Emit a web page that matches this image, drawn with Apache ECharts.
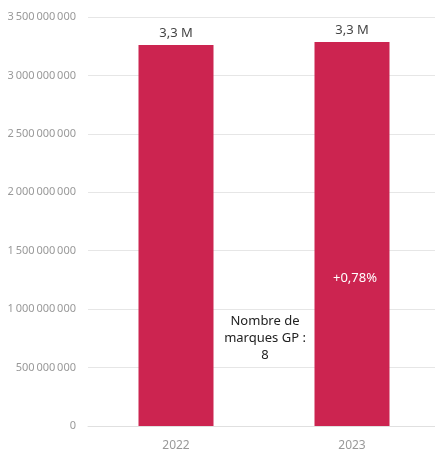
<!DOCTYPE html>
<html><head><meta charset="utf-8">
<script src="https://cdn.jsdelivr.net/npm/echarts@6/dist/echarts.min.js"></script>
<style>html,body{margin:0;padding:0;background:#fff;overflow:hidden}#c{width:440px;height:452px}</style>
</head><body><div id="c"></div>
<script>
const categories = ['2022', '2023'];
const values = [3260000000, 3285000000];
const valueLabels = ['3,3 M', '3,3 M'];
const changeLabel = '+0,78%';
const noteText = 'Nombre de\nmarques GP :\n8';
const yMax = 3500000000;
const yInterval = 500000000;

function fmt(v){
  return String(v).replace(/\B(?=(\d{3})+(?!\d))/g, '\u2006');
}
const font = '"Segoe UI","Noto Sans",sans-serif';
const chart = echarts.init(document.getElementById('c'));
chart.setOption({
  animation:false,
  grid:{left:88, top:17, right:0, bottom:26, containLabel:false},
  xAxis:{type:'category', data:categories,
    axisLine:{lineStyle:{color:'#e0e0e0'}}, axisTick:{show:false},
    axisLabel:{color:'#999', fontSize:12, fontFamily:font, margin:14}},
  yAxis:{type:'value', min:0, max:yMax, interval:yInterval,
    axisLabel:{color:'#999', fontSize:11, fontFamily:font, margin:12, formatter:fmt},
    splitLine:{lineStyle:{color:'#e6e6e6'}}},
  series:[{type:'bar', data:values, barWidth:75,
    itemStyle:{color:'#CC2450'},
    label:{show:true, position:'top', distance:5, color:'#444', fontSize:13, fontFamily:font,
      formatter:p=>valueLabels[p.dataIndex]}}]
});
const p0 = chart.convertToPixel({gridIndex:0}, [0, 0]);
const p1 = chart.convertToPixel({gridIndex:0}, [1, 0]);
const mid = (p0[0] + p1[0]) / 2;
chart.setOption({graphic:[
  {type:'text', z:100, x:p1[0]+3, y:278, style:{text:changeLabel, fill:'#fff', font:'13px '+font, textAlign:'center', textVerticalAlign:'middle'}},
  {type:'text', z:100, x:mid+1, y:338, style:{text:noteText, fill:'#222', font:'13px '+font, lineHeight:17, textAlign:'center', textVerticalAlign:'middle'}}
]});
</script></body></html>
